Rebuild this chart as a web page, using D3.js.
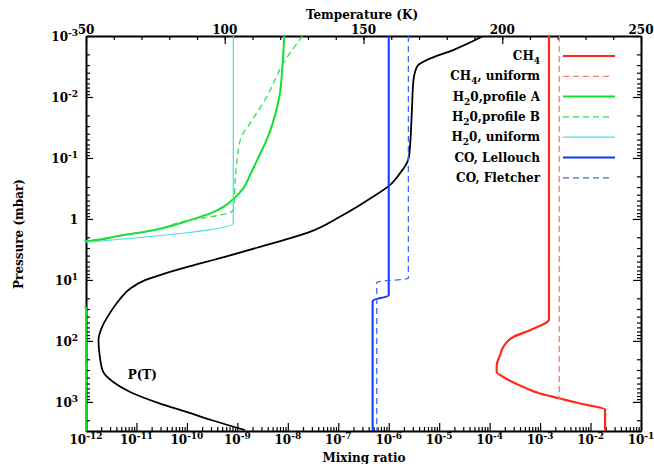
<!DOCTYPE html>
<html>
<head>
<meta charset="utf-8">
<script src="https://cdn.jsdelivr.net/npm/d3@7"></script>
<style>
  body { margin: 0; background: #fff; }
  text { font-family: "DejaVu Serif", serif; font-weight: bold; fill: #000; }
  .tick line, .domain { stroke: #000; }
</style>
</head>
<body>
<script>
// temperature profile P(T)
var ptTemp = [193.2, 182.3, 172.8, 169.7, 168.6, 168.0, 167.4, 166.4, 165.6, 163.2, 159.5, 153.4, 141.5, 130.7,
              112.7, 98.3, 92.9, 85.0, 77.7, 71.3, 66.2, 61.9, 58.6, 55.8, 54.5, 55.0, 56.2, 59.8, 65.9, 76.7, 86.3, 95.4, 107.3];
var ptPres = [0.001, 0.0017, 0.00248, 0.003, 0.00385, 0.0053, 0.0184, 0.0957, 0.121, 0.177, 0.279, 0.434, 0.923, 1.63,
              2.87, 4.40, 5.11, 6.41, 8.04, 10.1, 13.6, 21.5, 35, 59, 97, 183, 323, 471, 687, 1064, 1462, 2000, 2900];

// mixing ratio profiles
var ch4Vmr  = [1.5e-3, 1.5e-3, 6.3e-4, 2.95e-4, 1.87e-4, 1.61e-4, 1.38e-4, 1.38e-4, 1.87e-4, 4.66e-4, 1.0e-3, 2.48e-3, 6.2e-3, 1.94e-2, 1.94e-2];
var ch4Pres = [1e-3, 44.6, 66.7, 86, 125, 172, 251, 323, 390, 569, 730, 881, 1064, 1336, 3000];
var ch4UniVmr  = [2.4e-3, 2.4e-3];
var ch4UniPres = [1e-3, 900];
var h2oAVmr  = [8.5e-9, 7.9e-9, 6.8e-9, 5.0e-9, 3.79e-9, 2.75e-9, 1.78e-9, 1.31e-9, 8.6e-10, 5.3e-10, 2.9e-10, 1.15e-10,
                1.9e-11, 4.7e-12, 1e-12, 1e-13, 1e-13, 1e-12, 1e-12];
var h2oAPres = [1e-3, 0.0028, 0.0099, 0.0271, 0.0509, 0.0898, 0.191, 0.316, 0.46, 0.632, 0.811, 1.045,
                1.56, 1.88, 2.31, 2.6, 27, 28, 3000];
var h2oBVmr  = [1.95e-8, 8.15e-9, 3.82e-9, 1.78e-9, 1.2e-9, 9.7e-10, 8.7e-10, 8.3e-10, 4.5e-10, 1.8e-10, 1.15e-10, 1.9e-11, 4.7e-12, 1e-12];
var h2oBPres = [1e-3, 0.0028, 0.0099, 0.0271, 0.045, 0.121, 0.434, 0.716, 0.865, 0.98, 1.045, 1.56, 1.88, 2.31];
var h2oUniVmr  = [8.3e-10, 8.3e-10, 1e-12];
var h2oUniPres = [1e-3, 1.18, 2.4];
var coLVmr  = [1e-6, 1e-6, 4.8e-7, 4.8e-7];
var coLPres = [1e-3, 17.8, 22.1, 3000];
var coFVmr  = [2.45e-6, 2.45e-6, 5.8e-7, 5.8e-7];
var coFPres = [1e-3, 9.4, 10.9, 3000];

// tick labels
var xTickVals = [1e-12, 1e-11, 1e-10, 1e-9, 1e-8, 1e-7, 1e-6, 1e-5, 1e-4, 1e-3, 1e-2, 1e-1];
var xTickExp  = ["-12", "-11", "-10", "-9", "-8", "-7", "-6", "-5", "-4", "-3", "-2", "-1"];
var yTickVals = [1e-3, 1e-2, 1e-1, 1, 1e1, 1e2, 1e3];
var yTickExp  = ["-3", "-2", "-1", null, "1", "2", "3"];
var tTickVals = [50, 100, 150, 200, 250];

var svgWidth = 654, svgHeight = 464,
    margin = {top: 36, right: 13, bottom: 33, left: 86};
var width = svgWidth - margin.left - margin.right,
    height = svgHeight - margin.top - margin.bottom;

var svg = d3.select("body").append("svg")
    .attr("width", svgWidth)
    .attr("height", svgHeight);
var chart = svg.append("g")
    .attr("transform", "translate(" + margin.left + "," + margin.top + ")");

var xScale = d3.scaleLog().domain([1e-12, 1e-1]).range([0, width]),
    tScale = d3.scaleLinear().domain([50, 250]).range([0, width]),
    yScale = d3.scaleLog().domain([1e-3, 3e3]).range([0, height]);

// minor tick values
var xMinor = [], yMinor = [], tMinor = d3.range(60, 250, 10);
xTickVals.forEach(function(v){ for (var k = 2; k < 10; k++) if (v * k < 0.1) xMinor.push(v * k); });
yTickVals.forEach(function(v){ for (var k = 2; k < 10; k++) if (v * k <= 3e3) yMinor.push(v * k); });

function drawAxis(axisFn, scale, major, minor, majLen, minLen, transform) {
  var g = chart.append("g").attr("transform", transform);
  g.append("g").call(axisFn(scale).tickValues(minor).tickSizeInner(-minLen).tickSizeOuter(0).tickFormat(""))
    .call(function(s){ s.select(".domain").remove(); });
  g.append("g").call(axisFn(scale).tickValues(major).tickSizeInner(-majLen).tickSizeOuter(0).tickFormat(""));
  g.selectAll("line").attr("stroke-width", 1.2);
  g.selectAll(".domain").attr("stroke-width", 2);
  return g;
}

drawAxis(d3.axisBottom, xScale, xTickVals, xMinor, 8, 4, "translate(0," + height + ")");
drawAxis(d3.axisTop, tScale, tTickVals, tMinor, 8, 4, "translate(0,0)");
drawAxis(d3.axisLeft, yScale, yTickVals, yMinor, 7, 4, "translate(0,0)");
drawAxis(d3.axisRight, yScale, yTickVals, yMinor, 8, 4, "translate(" + width + ",0)");

// bottom labels 10^n
xTickVals.forEach(function(v, i){
  var t = chart.append("text")
      .attr("x", xScale(v)).attr("y", height + 13)
      .attr("text-anchor", "middle").style("font-size", "12px");
  t.append("tspan").text("10");
  t.append("tspan").attr("dy", -5).style("font-size", "9px").text(xTickExp[i]);
});

// left labels
yTickVals.forEach(function(v, i){
  var t = chart.append("text")
      .attr("x", -8).attr("y", yScale(v) + 5)
      .attr("text-anchor", "end").style("font-size", "12px");
  if (yTickExp[i] === null) { t.text("1"); return; }
  t.append("tspan").text("10");
  t.append("tspan").attr("dy", -5).style("font-size", "9px").text(yTickExp[i]);
});

// top labels
tTickVals.forEach(function(v){
  chart.append("text")
    .attr("x", tScale(v)).attr("y", -2)
    .attr("text-anchor", "middle").style("font-size", "12px")
    .text(v);
});

// axis titles
svg.append("text").attr("x", 362).attr("y", 19).attr("text-anchor", "middle")
  .style("font-size", "12px").text("Temperature (K)");
svg.append("text").attr("x", 364).attr("y", 462).attr("text-anchor", "middle")
  .style("font-size", "12px").text("Mixing ratio");
svg.append("text").attr("transform", "translate(23,234) rotate(-90)").attr("text-anchor", "middle")
  .style("font-size", "12px").text("Pressure (mbar)");

// curves
chart.append("clipPath").attr("id", "plotclip").append("rect")
  .attr("x", -1.5).attr("y", 0).attr("width", width + 1.5).attr("height", height);
var plot = chart.append("g").attr("clip-path", "url(#plotclip)");

var line = d3.line()
    .curve(d3.curveMonotoneY)
    .x(function(d){ return xScale(d[0]); })
    .y(function(d){ return yScale(d[1]); });
var lineT = d3.line()
    .curve(d3.curveMonotoneY)
    .x(function(d){ return tScale(d[0]); })
    .y(function(d){ return yScale(d[1]); });

var series = [
  {label: ["CH", "4", ""],           vmr: ch4Vmr,    pres: ch4Pres,    color: "#ff2a1a", dash: null,  w: 2.2, len: 52},
  {label: ["CH", "4", ", uniform"],  vmr: ch4UniVmr, pres: ch4UniPres, color: "#ff7a70", dash: "6,4", w: 1.3, len: 46},
  {label: ["H", "2", "0,profile A"], vmr: h2oAVmr,   pres: h2oAPres,   color: "#10e030", dash: null,  w: 2.0, len: 52},
  {label: ["H", "2", "0,profile B"], vmr: h2oBVmr,   pres: h2oBPres,   color: "#30e050", dash: "6,4", w: 1.3, len: 46},
  {label: ["H", "2", "0, uniform"],  vmr: h2oUniVmr, pres: h2oUniPres, color: "#40e0e0", dash: null,  w: 1.2, len: 52},
  {label: ["CO, Lellouch", "", ""],  vmr: coLVmr,    pres: coLPres,    color: "#1038ff", dash: null,  w: 2.0, len: 52},
  {label: ["CO, Fletcher", "", ""],  vmr: coFVmr,    pres: coFPres,    color: "#3a68ff", dash: "6,4", w: 1.3, len: 46}
];

plot.append("path")
  .datum(d3.zip(ptTemp, ptPres))
  .attr("d", lineT)
  .attr("fill", "none").attr("stroke", "#000").attr("stroke-width", 1.8);

series.forEach(function(s){
  plot.append("path")
    .datum(d3.zip(s.vmr, s.pres))
    .attr("d", line)
    .attr("fill", "none")
    .attr("stroke", s.color)
    .attr("stroke-width", s.w)
    .attr("stroke-dasharray", s.dash);
});

chart.append("text")
  .attr("x", tScale(65)).attr("y", yScale(420))
  .style("font-size", "12px").text("P(T)");

// legend
series.forEach(function(s, i){
  var yy = 56 + i * 20.3 - margin.top;
  var t = chart.append("text")
      .attr("x", 540 - margin.left).attr("y", yy + 4)
      .attr("text-anchor", "end").style("font-size", "12px");
  t.append("tspan").text(s.label[0]);
  if (s.label[1]) t.append("tspan").attr("dy", 4).style("font-size", "9px").text(s.label[1]);
  if (s.label[2]) t.append("tspan").attr("dy", s.label[1] ? -4 : 0).text(s.label[2]);
  chart.append("line")
    .attr("x1", 563 - margin.left).attr("x2", 563 - margin.left + s.len)
    .attr("y1", yy).attr("y2", yy)
    .attr("stroke", s.color).attr("stroke-width", s.w)
    .attr("stroke-dasharray", s.dash);
});
</script>
</body>
</html>
